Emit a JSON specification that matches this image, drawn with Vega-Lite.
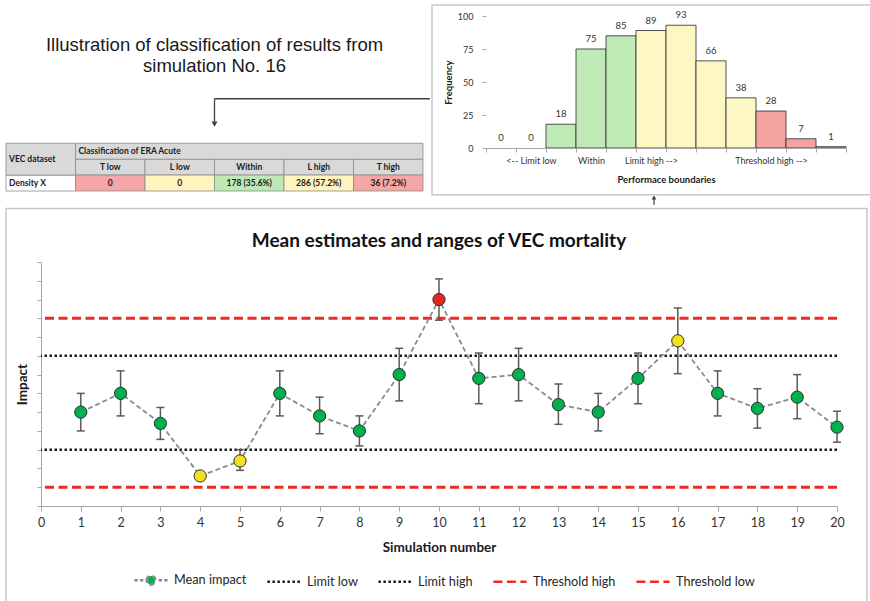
{
  "$schema": "https://vega.github.io/schema/vega-lite/v6.json",
  "background": "white",
  "padding": {"left": 5, "top": 4, "right": 0, "bottom": 0},
  "spacing": 1,
  "resolve": {"scale": {"fill": "independent", "color": "independent", "strokeDash": "independent"}},
  "config": {
    "view": {"stroke": null},
    "font": "Lato",
    "axis": {"labelFont": "Lato", "titleFont": "Lato", "labelColor": "#333333", "titleColor": "#1a1a1a", "grid": false, "domainColor": "#a6a6a6", "tickColor": "#a6a6a6"}
  },
  "datasets": {
    "cells": [
      {"row": "h2", "col": "T low", "label": "T low", "zone": "header"},
      {"row": "h2", "col": "L low", "label": "L low", "zone": "header"},
      {"row": "h2", "col": "Within", "label": "Within", "zone": "header"},
      {"row": "h2", "col": "L high", "label": "L high", "zone": "header"},
      {"row": "h2", "col": "T high", "label": "T high", "zone": "header"},
      {"row": "d", "col": "VEC dataset", "label": "Density X", "zone": "label"},
      {"row": "d", "col": "T low", "label": "0", "zone": "threshold"},
      {"row": "d", "col": "L low", "label": "0", "zone": "limit"},
      {"row": "d", "col": "Within", "label": "178 (35.6%)", "zone": "within"},
      {"row": "d", "col": "L high", "label": "286 (57.2%)", "zone": "limit"},
      {"row": "d", "col": "T high", "label": "36 (7.2%)", "zone": "threshold"}
    ],
    "frequencies": [
      {"bin": 1, "freq": 0, "zone": "limit"},
      {"bin": 2, "freq": 0, "zone": "limit"},
      {"bin": 3, "freq": 18, "zone": "within"},
      {"bin": 4, "freq": 75, "zone": "within"},
      {"bin": 5, "freq": 85, "zone": "within"},
      {"bin": 6, "freq": 89, "zone": "limit"},
      {"bin": 7, "freq": 93, "zone": "limit"},
      {"bin": 8, "freq": 66, "zone": "limit"},
      {"bin": 9, "freq": 38, "zone": "limit"},
      {"bin": 10, "freq": 28, "zone": "threshold"},
      {"bin": 11, "freq": 7, "zone": "threshold"},
      {"bin": 12, "freq": 1, "zone": "threshold"}
    ],
    "simulations": [
      {"sim": 1, "mean": 5.0, "lo": 4.0, "hi": 6.0, "status": "within"},
      {"sim": 2, "mean": 6.0, "lo": 4.8, "hi": 7.2, "status": "within"},
      {"sim": 3, "mean": 4.4, "lo": 3.55, "hi": 5.25, "status": "within"},
      {"sim": 4, "mean": 1.6, "lo": 1.45, "hi": 1.75, "status": "limit"},
      {"sim": 5, "mean": 2.4, "lo": 1.9, "hi": 3.0, "status": "limit"},
      {"sim": 6, "mean": 6.0, "lo": 4.8, "hi": 7.2, "status": "within"},
      {"sim": 7, "mean": 4.8, "lo": 3.85, "hi": 5.8, "status": "within"},
      {"sim": 8, "mean": 4.0, "lo": 3.2, "hi": 4.8, "status": "within"},
      {"sim": 9, "mean": 7.0, "lo": 5.6, "hi": 8.4, "status": "within"},
      {"sim": 10, "mean": 11.0, "lo": 9.9, "hi": 12.1, "status": "threshold"},
      {"sim": 11, "mean": 6.8, "lo": 5.45, "hi": 8.15, "status": "within"},
      {"sim": 12, "mean": 7.0, "lo": 5.6, "hi": 8.4, "status": "within"},
      {"sim": 13, "mean": 5.4, "lo": 4.35, "hi": 6.5, "status": "within"},
      {"sim": 14, "mean": 5.0, "lo": 4.0, "hi": 6.0, "status": "within"},
      {"sim": 15, "mean": 6.8, "lo": 5.45, "hi": 8.15, "status": "within"},
      {"sim": 16, "mean": 8.8, "lo": 7.05, "hi": 10.55, "status": "limit"},
      {"sim": 17, "mean": 6.0, "lo": 4.8, "hi": 7.2, "status": "within"},
      {"sim": 18, "mean": 5.2, "lo": 4.15, "hi": 6.25, "status": "within"},
      {"sim": 19, "mean": 5.8, "lo": 4.65, "hi": 7.0, "status": "within"},
      {"sim": 20, "mean": 4.2, "lo": 3.4, "hi": 5.05, "status": "within"}
    ],
    "boundaries": [
      {"series": "Threshold high", "value": 10},
      {"series": "Limit high", "value": 8},
      {"series": "Limit low", "value": 3},
      {"series": "Threshold low", "value": 1}
    ]
  },
  "vconcat": [
    {
      "spacing": 0,
      "resolve": {"scale": {"fill": "independent"}},
      "hconcat": [
        {
          "width": 382,
          "height": 175,
          "data": {"name": "cells"},
          "encoding": {
            "x": {"field": "col", "type": "nominal", "axis": null,
                  "scale": {"domain": ["VEC dataset", "T low", "L low", "Within", "L high", "T high"], "range": [-35, 382], "paddingInner": 0, "paddingOuter": 0}},
            "y": {"field": "row", "type": "nominal", "axis": null,
                  "scale": {"domain": ["s0", "s1", "s2", "s3", "s4", "s5", "s6", "s7", "h1", "h2", "d"], "paddingInner": 0, "paddingOuter": 0}}
          },
          "layer": [
            {
              "data": {"values": [{"caption": "Illustration of classification of results from\nsimulation No. 16"}]},
              "mark": {"type": "text", "lineBreak": "\n", "font": "Liberation Sans", "fontSize": 18.5, "lineHeight": 21, "color": "#1a1a1a", "baseline": "middle", "align": "center"},
              "encoding": {
                "x": {"datum": "Within", "type": "nominal", "bandPosition": 0},
                "y": {"datum": "s1", "type": "nominal", "bandPosition": 0.8},
                "text": {"field": "caption"}
              }
            },
            {
              "data": {"values": [{}]},
              "mark": {"type": "rule", "color": "#404040", "strokeWidth": 1.3},
              "encoding": {
                "x": {"datum": "Within", "type": "nominal", "bandPosition": 0},
                "x2": {"datum": "T high", "bandPosition": 1.1},
                "y": {"datum": "s5", "type": "nominal", "bandPosition": 0.2}
              }
            },
            {
              "data": {"values": [{}]},
              "mark": {"type": "rule", "color": "#404040", "strokeWidth": 1.3},
              "encoding": {
                "x": {"datum": "Within", "type": "nominal", "bandPosition": 0},
                "y": {"datum": "s5", "type": "nominal", "bandPosition": 0.2},
                "y2": {"datum": "s6", "bandPosition": 0.75}
              }
            },
            {
              "data": {"values": [{}]},
              "mark": {"type": "point", "shape": "triangle-down", "filled": true, "size": 35, "color": "#404040", "opacity": 1},
              "encoding": {
                "x": {"datum": "Within", "type": "nominal", "bandPosition": 0},
                "y": {"datum": "s6", "type": "nominal", "bandPosition": 0.8}
              }
            },
            {
              "mark": {"type": "rect", "stroke": "#8a8a8a", "strokeWidth": 0.8},
              "encoding": {
                "fill": {"field": "zone", "type": "nominal", "legend": null,
                         "scale": {"domain": ["header", "label", "threshold", "limit", "within"], "range": ["#d9d9d9", "#ffffff", "#f4a7a6", "#fff3be", "#bde9b6"]}}
              }
            },
            {
              "data": {"values": [{"label": "VEC dataset"}]},
              "layer": [
                {
                  "mark": {"type": "rect", "fill": "#d9d9d9", "stroke": "#8a8a8a", "strokeWidth": 0.8},
                  "encoding": {
                    "x": {"datum": "VEC dataset", "type": "nominal", "bandPosition": 0},
                    "x2": {"datum": "VEC dataset", "bandPosition": 1},
                    "y": {"datum": "h1", "type": "nominal", "bandPosition": 0},
                    "y2": {"datum": "h2", "bandPosition": 1}
                  }
                },
                {
                  "mark": {"type": "text", "align": "left", "dx": 3, "fontSize": 8.5, "fontWeight": "bold", "color": "#1a1a1a", "baseline": "middle"},
                  "encoding": {
                    "x": {"datum": "VEC dataset", "type": "nominal", "bandPosition": 0},
                    "y": {"datum": "h2", "type": "nominal", "bandPosition": 0},
                    "text": {"field": "label"}
                  }
                }
              ]
            },
            {
              "data": {"values": [{"label": "Classification of ERA Acute"}]},
              "layer": [
                {
                  "mark": {"type": "rect", "fill": "#d9d9d9", "stroke": "#8a8a8a", "strokeWidth": 0.8},
                  "encoding": {
                    "x": {"datum": "T low", "type": "nominal", "bandPosition": 0},
                    "x2": {"datum": "T high", "bandPosition": 1},
                    "y": {"datum": "h1", "type": "nominal", "bandPosition": 0},
                    "y2": {"datum": "h1", "bandPosition": 1}
                  }
                },
                {
                  "mark": {"type": "text", "align": "left", "dx": 3, "fontSize": 8.5, "fontWeight": "bold", "color": "#1a1a1a", "baseline": "middle"},
                  "encoding": {
                    "x": {"datum": "T low", "type": "nominal", "bandPosition": 0},
                    "y": {"datum": "h1", "type": "nominal"},
                    "text": {"field": "label"}
                  }
                }
              ]
            },
            {
              "transform": [{"filter": "datum.col !== 'VEC dataset'"}],
              "mark": {"type": "text", "fontSize": 8.5, "fontWeight": "bold", "color": "#1a1a1a", "baseline": "middle"},
              "encoding": {"text": {"field": "label"}}
            },
            {
              "transform": [{"filter": "datum.col === 'VEC dataset'"}],
              "mark": {"type": "text", "align": "left", "dx": 3, "fontSize": 8.5, "fontWeight": "bold", "color": "#1a1a1a", "baseline": "middle"},
              "encoding": {
                "x": {"field": "col", "type": "nominal", "bandPosition": 0},
                "text": {"field": "label"}
              }
            }
          ]
        },
        {
          "width": 360,
          "height": 132,
          "data": {"name": "frequencies"},
          "layer": [
            {
              "data": {"values": [{}]},
              "mark": {"type": "rect", "fillOpacity": 0, "stroke": "#c8c8c8", "strokeWidth": 1.5},
              "encoding": {
                "x": {"datum": 1, "type": "ordinal", "bandPosition": -1.8},
                "x2": {"datum": 12, "bandPosition": 2.2},
                "y": {"datum": 108.3, "type": "quantitative"},
                "y2": {"datum": -35.5}
              }
            },
            {
              "transform": [{"filter": "datum.freq > 0"}],
              "mark": {"type": "bar", "stroke": "#3d3d3d", "strokeWidth": 0.9},
              "encoding": {
                "x": {"field": "bin", "type": "ordinal",
                      "scale": {"domain": [1, 2, 3, 4, 5, 6, 7, 8, 9, 10, 11, 12], "paddingInner": 0, "paddingOuter": 0},
                      "axis": {"title": "Performace boundaries", "titleFontSize": 9.5, "titleFontWeight": "bold", "titlePadding": 9,
                               "labelAngle": 0, "labelAlign": "center", "labelFontSize": 9, "labelPadding": 8, "tickSize": 4, "tickBand": "extent", "labelOverlap": false, "labelBound": false,
                               "labelExpr": "datum.value == 2 ? '<-- Limit low' : datum.value == 4 ? 'Within' : datum.value == 6 ? 'Limit high -->' : datum.value == 10 ? 'Threshold high -->' : ''"}},
                "y": {"field": "freq", "type": "quantitative",
                      "scale": {"domain": [0, 100], "nice": false},
                      "axis": {"title": "Frequency", "titleFontSize": 9.5, "titleFontWeight": "bold", "titlePadding": 4,
                               "values": [0, 25, 50, 75, 100], "tickCount": 10, "labelOverlap": false, "labelFontSize": 9, "labelPadding": 9, "tickSize": 4, "domain": false}},
                "fill": {"field": "zone", "type": "nominal", "legend": null,
                         "scale": {"domain": ["threshold", "limit", "within"], "range": ["#f4a3a2", "#fdf7c3", "#bfe9b5"]}}
              }
            },
            {
              "mark": {"type": "text", "dy": -10, "fontSize": 9.5, "color": "#333333", "baseline": "middle"},
              "encoding": {
                "x": {"field": "bin", "type": "ordinal"},
                "y": {"field": "freq", "type": "quantitative"},
                "text": {"field": "freq"}
              }
            },
            {
              "data": {"values": [{}]},
              "mark": {"type": "rule", "color": "#404040", "strokeWidth": 1.2},
              "encoding": {
                "x": {"datum": 6, "type": "ordinal", "bandPosition": 0.6},
                "y": {"datum": -37, "type": "quantitative"},
                "y2": {"datum": -43}
              }
            },
            {
              "data": {"values": [{}]},
              "mark": {"type": "point", "shape": "triangle-up", "filled": true, "size": 22, "color": "#404040", "opacity": 1},
              "encoding": {
                "x": {"datum": 6, "type": "ordinal", "bandPosition": 0.6},
                "y": {"datum": -37.5, "type": "quantitative"}
              }
            }
          ]
        }
      ]
    },
    {
      "width": 796,
      "height": 244,
      "layer": [
        {
          "data": {"values": [{}]},
          "mark": {"type": "rect", "fillOpacity": 0, "stroke": "#c8c8c8", "strokeWidth": 1.5},
          "encoding": {
            "x": {"datum": -0.88, "type": "quantitative"},
            "x2": {"datum": 20.75},
            "y": {"datum": 15.85, "type": "quantitative"},
            "y2": {"datum": -5.5}
          }
        },
        {
          "data": {"values": [{"label": "Mean estimates and ranges of VEC mortality"}]},
          "mark": {"type": "text", "fontSize": 19, "fontWeight": "bold", "color": "#111111", "baseline": "middle", "align": "center"},
          "encoding": {
            "x": {"datum": 10, "type": "quantitative"},
            "y": {"datum": 14.1, "type": "quantitative"},
            "text": {"field": "label"}
          }
        },
        {
          "data": {"name": "boundaries"},
          "transform": [{"filter": "indexof(datum.series, 'Threshold') === 0"}],
          "mark": {"type": "rule", "strokeWidth": 3},
          "encoding": {
            "y": {"field": "value", "type": "quantitative"},
            "color": {"field": "series", "type": "nominal",
                      "scale": {"domain": ["Mean impact", "Limit low", "Limit high", "Threshold high", "Threshold low"],
                                "range": ["#8a8a8a", "#1a1a1a", "#1a1a1a", "#ee2a24", "#ee2a24"]},
                      "legend": {"orient": "none", "legendX": 92, "legendY": 300, "direction": "horizontal", "title": null,
                                 "symbolType": "stroke", "symbolSize": 1100, "symbolStrokeWidth": 2.5,
                                 "labelFont": "Lato", "labelFontSize": 12.7, "labelColor": "#262626", "labelOffset": 5,
                                 "columnPadding": 15, "padding": 0,
                                 "encode": {"symbols": {"update": {
                                   "shape": {"signal": "datum.value === 'Mean impact' ? 'M-1,0L-0.8,0M-0.66,0L-0.46,0M0.46,0L0.66,0M0.8,0L1,0M-0.26,0A0.26,0.26,0,1,1,0.26,0A0.26,0.26,0,1,1,-0.26,0Z' : 'stroke'"},
                                   "fill": {"signal": "datum.value === 'Mean impact' ? '#00b050' : 'transparent'"}
                                 }}}}},
            "strokeDash": {"field": "series", "type": "nominal", "legend": null,
                           "scale": {"domain": ["Mean impact", "Limit low", "Limit high", "Threshold high", "Threshold low"],
                                     "range": [[5, 3], [2.5, 2.5], [2.5, 2.5], [9, 4.5], [9, 4.5]]}}
          }
        },
        {
          "data": {"name": "boundaries"},
          "transform": [{"filter": "indexof(datum.series, 'Limit') === 0"}],
          "mark": {"type": "rule", "strokeWidth": 2.5},
          "encoding": {
            "y": {"field": "value", "type": "quantitative"},
            "color": {"field": "series", "type": "nominal"},
            "strokeDash": {"field": "series", "type": "nominal", "legend": null}
          }
        },
        {
          "data": {"name": "simulations"},
          "mark": {"type": "line", "strokeWidth": 1.8},
          "encoding": {
            "x": {"field": "sim", "type": "quantitative",
                  "scale": {"domain": [0, 20], "nice": false},
                  "axis": {"title": "Simulation number", "titleFontSize": 13.5, "titleFontWeight": "bold", "titlePadding": 12,
                           "labelFontSize": 12.5, "tickCount": 20, "tickSize": 5, "labelPadding": 5, "labelFlush": false}},
            "y": {"field": "mean", "type": "quantitative",
                  "scale": {"domain": [0, 13], "nice": false},
                  "axis": {"title": "Impact", "labels": false, "tickCount": 13, "tickSize": 4,
                           "titleFontSize": 13.5, "titleFontWeight": "bold", "titlePadding": 7}},
            "color": {"datum": "Mean impact", "type": "nominal"},
            "strokeDash": {"datum": "Mean impact", "type": "nominal", "legend": null}
          }
        },
        {
          "data": {"name": "simulations"},
          "mark": {"type": "rule", "color": "#5a5a5a", "strokeWidth": 1.5},
          "encoding": {
            "x": {"field": "sim", "type": "quantitative"},
            "y": {"field": "lo", "type": "quantitative"},
            "y2": {"field": "hi"}
          }
        },
        {
          "data": {"name": "simulations"},
          "mark": {"type": "tick", "orient": "horizontal", "size": 8, "thickness": 1.5, "color": "#5a5a5a", "opacity": 1},
          "encoding": {
            "x": {"field": "sim", "type": "quantitative"},
            "y": {"field": "lo", "type": "quantitative"}
          }
        },
        {
          "data": {"name": "simulations"},
          "mark": {"type": "tick", "orient": "horizontal", "size": 8, "thickness": 1.5, "color": "#5a5a5a", "opacity": 1},
          "encoding": {
            "x": {"field": "sim", "type": "quantitative"},
            "y": {"field": "hi", "type": "quantitative"}
          }
        },
        {
          "data": {"name": "simulations"},
          "mark": {"type": "point", "filled": true, "size": 150, "stroke": "#2f2f2f", "strokeWidth": 1, "opacity": 1, "fillOpacity": 1},
          "encoding": {
            "x": {"field": "sim", "type": "quantitative"},
            "y": {"field": "mean", "type": "quantitative"},
            "fill": {"field": "status", "type": "nominal", "legend": null,
                     "scale": {"domain": ["within", "limit", "threshold"], "range": ["#00b050", "#f3e01f", "#e5261f"]}}
          }
        }
      ]
    }
  ]
}
